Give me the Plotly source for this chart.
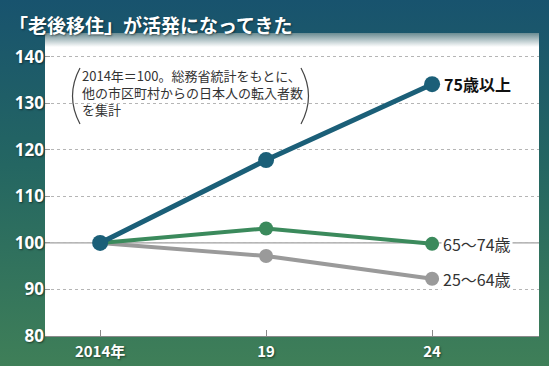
import base64
import plotly.graph_objects as go

# ---- data ----
years = [2014, 2019, 2024]
x_tick_labels = ["2014年", "19", "24"]
y_ticks = [80, 90, 100, 110, 120, 130, 140]
series_names = ["25〜64歳", "65〜74歳", "75歳以上"]
age_25_64 = [100, 97.2, 92.3]
age_65_74 = [100, 103.1, 99.8]
age_75_plus = [100, 117.8, 134.1]
title_text = "「老後移住」が活発になってきた"
note_lines = ["2014年＝100。総務省統計をもとに、", "他の市区町村からの日本人の転入者数", "を集計"]

W, H = 549, 366
L, R, T, B = 45, 10, 33, 30
PW, PH = W - L - R, H - T - B


def px(x):
    return (x - L) / PW


def py(y):
    return (H - B - y) / PH


svg = f"""<svg xmlns='http://www.w3.org/2000/svg' width='{W}' height='{H}' viewBox='0 0 {W} {H}' preserveAspectRatio='none'>
<defs>
<linearGradient id='bg' x1='0' y1='0' x2='0' y2='1'>
<stop offset='0' stop-color='#18536e'/>
<stop offset='0.45' stop-color='#246662'/>
<stop offset='1' stop-color='#3f7f58'/>
</linearGradient>
<linearGradient id='sh' x1='0' y1='0' x2='0' y2='1'>
<stop offset='0' stop-color='#6a8c92'/>
<stop offset='1' stop-color='#ffffff'/>
</linearGradient>
</defs>
<rect width='{W}' height='{H}' fill='url(#bg)'/>
<rect x='{L}' y='{T}' width='{PW}' height='{PH}' fill='#ffffff'/>
<rect x='{L}' y='{T}' width='{PW}' height='14' fill='url(#sh)'/>
</svg>"""
src = "data:image/svg+xml;base64," + base64.b64encode(svg.encode()).decode()

fig = go.Figure()
colors = ["#9a9a9a", "#3b8a5c", "#1b5f78"]
widths = [4, 4, 5]
msizes = [14, 14, 16]
for name, vals, c, w, m in zip(series_names, [age_25_64, age_65_74, age_75_plus], colors, widths, msizes):
    fig.add_trace(go.Scatter(
        x=years, y=vals, mode="lines+markers", name=name,
        line=dict(color=c, width=w),
        marker=dict(color=c, size=m),
        showlegend=False, hoverinfo="skip", cliponaxis=False,
    ))

label_font = "Noto Sans CJK JP"
# end labels
fig.add_annotation(x=years[-1], y=age_75_plus[-1], xref="x", yref="y",
                   text="<b>" + series_names[2] + "</b>", showarrow=False,
                   xanchor="left", yanchor="middle", xshift=10,
                   font=dict(family=label_font, size=16, color="#111111"))
for name, vals in [(series_names[1], age_65_74), (series_names[0], age_25_64)]:
    fig.add_annotation(x=years[-1], y=vals[-1], xref="x", yref="y",
                       text=name, showarrow=False, bgcolor="#ffffff",
                       xanchor="left", yanchor="middle", xshift=9,
                       borderpad=1,
                       font=dict(family=label_font, size=16, color="#333333"))

# title
fig.add_annotation(x=px(7), y=py(25), xref="paper", yref="paper",
                   text="<b>" + title_text + "</b>", showarrow=False,
                   xanchor="left", yanchor="middle",
                   font=dict(family=label_font, size=19, color="#ffffff",
                             shadow="1px 1px 2px rgba(0,0,0,0.45)"))

# note
fig.add_annotation(x=px(80), y=py(92.5), xref="paper", yref="paper",
                   text="<br>".join(note_lines), showarrow=False,
                   xanchor="left", yanchor="middle", align="left",
                   font=dict(family=label_font, size=13, color="#333333"))

shapes = [
    # solid 100 reference line
    dict(type="line", xref="paper", yref="y", x0=0, x1=1, y0=100, y1=100,
         line=dict(color="#8a8a8a", width=1), layer="between"),
    # white box behind note
    dict(type="rect", xref="paper", yref="paper", x0=px(70), x1=px(318),
         y0=py(126), y1=py(62), fillcolor="#ffffff", line=dict(width=0), layer="between"),
    # parentheses
    dict(type="path", xref="paper", yref="paper",
         path=f"M {px(80)},{py(68)} Q {px(65)},{py(96)} {px(80)},{py(124)}",
         line=dict(color="#444444", width=1.2), layer="between"),
    dict(type="path", xref="paper", yref="paper",
         path=f"M {px(301)},{py(68)} Q {px(316)},{py(96)} {px(301)},{py(124)}",
         line=dict(color="#444444", width=1.2), layer="between"),
]

tick_font = dict(family="Noto Sans", size=17, color="#ffffff", weight="bold",
                 shadow="1px 1px 2px rgba(0,0,0,0.5)")

fig.update_layout(
    width=W, height=H,
    margin=dict(l=L, r=R, t=T, b=B, autoexpand=False),
    paper_bgcolor="#2a6b60",
    plot_bgcolor="rgba(0,0,0,0)",
    images=[dict(source=src, xref="paper", yref="paper", x=px(0), y=py(0),
                 sizex=W / PW, sizey=H / PH, xanchor="left", yanchor="top",
                 sizing="stretch", layer="below")],
    shapes=shapes,
    xaxis=dict(range=[2012.34, 2027.22], tickvals=years, ticktext=x_tick_labels,
               showgrid=False, zeroline=False, showline=True, linecolor="#8a8a8a",
               linewidth=1, ticks="inside", ticklen=6, tickcolor="#8a8a8a",
               tickfont=dict(family="Noto Sans CJK JP", size=15, color="#ffffff",
                             weight="bold", shadow="1px 1px 2px rgba(0,0,0,0.5)"),
               ticklabelstandoff=2, fixedrange=True, automargin=False),
    yaxis=dict(range=[80, 145.1], tickvals=y_ticks, showgrid=True,
               gridcolor="#b5b5b5", griddash="dot", gridwidth=1,
               zeroline=False, showline=False, ticks="inside", ticklen=5,
               tickcolor="#9a9a9a", tickfont=tick_font, fixedrange=True,
               automargin=False),
)

fig.write_html("out.html", config={"displayModeBar": False},
               post_script="document.body.style.margin='0';document.body.style.overflow='hidden';")
